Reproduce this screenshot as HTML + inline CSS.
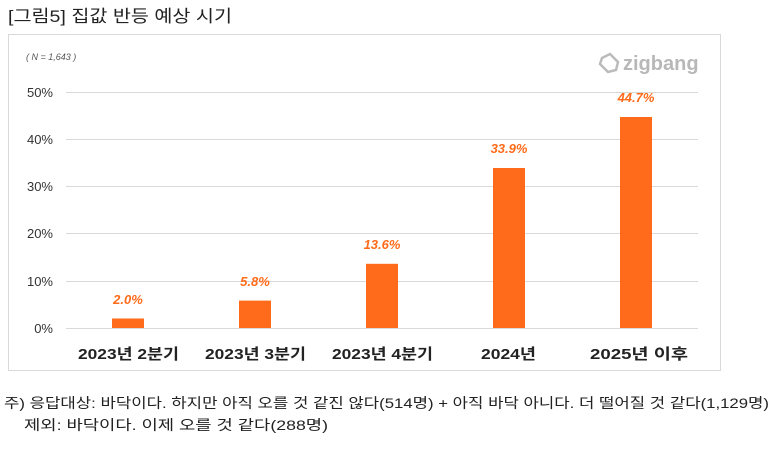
<!DOCTYPE html><html><head><meta charset="utf-8"><style>
body{margin:0;width:778px;height:447px;background:#fff;overflow:hidden;font-family:"Liberation Sans","Noto Sans CJK KR",sans-serif}
</style></head><body>
<svg width="778" height="447" xmlns="http://www.w3.org/2000/svg" font-family="Liberation Sans, Noto Sans CJK KR, sans-serif">
<text x="8" y="22" font-size="17" fill="#222" textLength="224" lengthAdjust="spacingAndGlyphs">[그림5] 집값 반등 예상 시기</text>
<rect x="8.5" y="34.5" width="712" height="336" fill="#fff" stroke="#d9d9d9"/>
<text x="26" y="60" font-size="9" font-style="italic" fill="#555">( N = 1,643 )</text>
<g fill="none" stroke="#bbb" stroke-width="2.5"><path d="M602 58 l8 -4 l8 8 l-2 8 l-8 2 l-8 -8z"/></g>
<text x="623" y="70" font-size="20" fill="#b8b8b8" font-weight="bold">zigbang</text>
<g stroke="#d9d9d9" stroke-width="1">
<line x1="66" x2="698" y1="92.5" y2="92.5"/><line x1="66" x2="698" y1="139.5" y2="139.5"/><line x1="66" x2="698" y1="186.5" y2="186.5"/><line x1="66" x2="698" y1="233.5" y2="233.5"/><line x1="66" x2="698" y1="281.5" y2="281.5"/><line x1="66" x2="698" y1="328.5" y2="328.5"/></g>
<g font-size="13" fill="#333" text-anchor="end">
<text x="53" y="97">50%</text><text x="53" y="144">40%</text><text x="53" y="191">30%</text><text x="53" y="238">20%</text><text x="53" y="286">10%</text><text x="53" y="333">0%</text></g>
<g fill="#ff6b1a">
<rect x="112" y="318.5" width="32" height="9.5"/><rect x="239" y="300.6" width="32" height="27.4"/><rect x="366" y="263.8" width="32" height="64.2"/><rect x="493" y="168" width="32" height="160"/><rect x="620" y="117" width="32" height="211"/></g>
<g font-size="13" fill="#ff6b1a" font-weight="bold" font-style="italic" text-anchor="middle">
<text x="128" y="304">2.0%</text><text x="255" y="286">5.8%</text><text x="382" y="249">13.6%</text><text x="509" y="153">33.9%</text><text x="636" y="102">44.7%</text></g>
<g font-size="15" fill="#222" font-weight="bold">
<text x="78" y="359" textLength="101" lengthAdjust="spacingAndGlyphs">2023년 2분기</text><text x="205" y="359" textLength="101" lengthAdjust="spacingAndGlyphs">2023년 3분기</text><text x="332" y="359" textLength="101" lengthAdjust="spacingAndGlyphs">2023년 4분기</text><text x="481" y="359" textLength="55" lengthAdjust="spacingAndGlyphs">2024년</text><text x="590" y="359" textLength="98" lengthAdjust="spacingAndGlyphs">2025년 이후</text></g>
<text x="4" y="408" font-size="14" fill="#222" textLength="765" lengthAdjust="spacingAndGlyphs">주) 응답대상: 바닥이다. 하지만 아직 오를 것 같진 않다(514명) + 아직 바닥 아니다. 더 떨어질 것 같다(1,129명)</text>
<text x="24" y="430" font-size="14" fill="#222" textLength="304" lengthAdjust="spacingAndGlyphs">제외: 바닥이다. 이제 오를 것 같다(288명)</text>
</svg>
</body></html>
